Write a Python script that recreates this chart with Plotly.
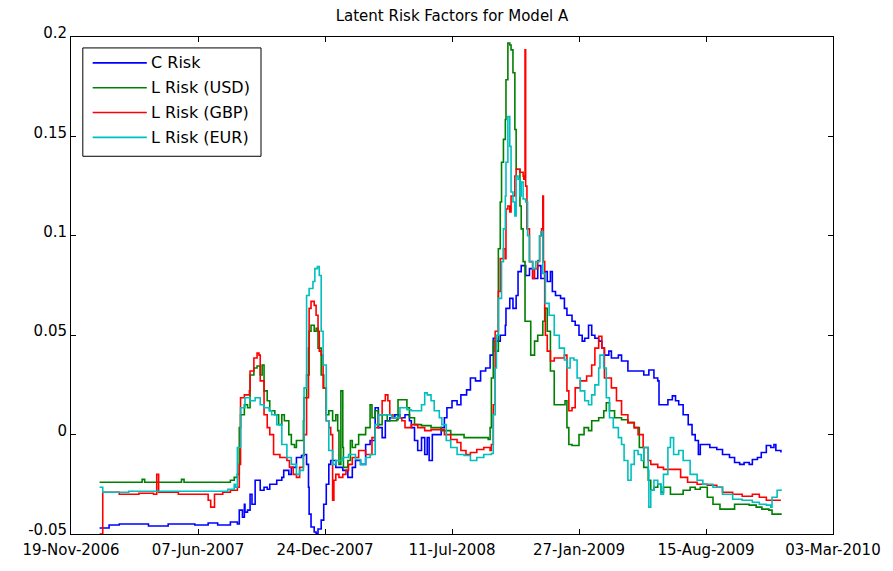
import pandas as pd
import plotly.graph_objects as go

start_date = "2006-11-19"

# (day offset from start_date, value)
c_risk = [(45,-0.047),(60,-0.0455),(76,-0.045),(102,-0.045),(122,-0.046),(153,-0.045),(195,-0.0455),(216,-0.0445),(231,-0.0455),(251,-0.044),(262,-0.045),(265,-0.038),(270,-0.0415),(273,-0.035),(274,-0.039),(278,-0.038),(282,-0.030),(285,-0.035),(288,-0.035),(290,-0.023),(296,-0.023),(298,-0.028),(304,-0.0265),(309,-0.0275),(313,-0.025),(324,-0.023),(332,-0.0215),(335,-0.018),(343,-0.020),(347,-0.0165),(355,-0.0115),(363,-0.0105),(367,-0.010),(371,-0.015),(374,-0.0265),(375,-0.040),(378,-0.0465),(383,-0.049),(386,-0.050),(389,-0.0475),(394,-0.043),(398,-0.035),(402,-0.025),(406,-0.015),(409,-0.013),(417,-0.0165),(428,-0.018),(436,-0.0215),(443,-0.0165),(448,-0.013),(456,-0.015),(464,-0.005),(471,-0.003),(479,0.0135),(484,0.0035),(490,-0.0015),(495,0.007),(502,0.0085),(510,0.010),(518,0.0085),(526,0.010),(533,0.007),(536,0.0035),(541,-0.003),(546,-0.008),(552,-0.0015),(557,-0.010),(561,-0.0015),(564,-0.013),(569,0.000),(577,0.000),(583,0.0035),(588,0.0085),(592,0.0135),(600,0.017),(608,0.015),(614,0.020),(623,0.0225),(629,0.0285),(637,0.027),(645,0.032),(653,0.0335),(660,0.040),(665,0.0485),(670,0.047),(676,0.050),(684,0.055),(685,0.0635),(691,0.0685),(696,0.0635),(701,0.070),(704,0.082),(709,0.085),(716,0.080),(722,0.0835),(727,0.0785),(735,0.085),(740,0.0785),(746,0.082),(750,0.077),(755,0.082),(758,0.072),(763,0.070),(771,0.0685),(777,0.0635),(781,0.060),(789,0.057),(794,0.055),(800,0.050),(805,0.047),(809,0.0485),(815,0.055),(820,0.050),(825,0.0485),(831,0.047),(836,0.0435),(840,0.040),(847,0.042),(851,0.0385),(862,0.040),(867,0.037),(871,0.037),(877,0.032),(887,0.032),(902,0.030),(910,0.0325),(918,0.0285),(924,0.027),(926,0.015),(932,0.015),(940,0.0175),(947,0.0195),(952,0.017),(957,0.015),(964,0.010),(972,0.005),(978,0.000),(983,-0.003),(988,-0.010),(991,-0.005),(998,-0.005),(1006,-0.0065),(1017,-0.0075),(1026,-0.010),(1037,-0.0115),(1045,-0.014),(1053,-0.015),(1060,-0.014),(1068,-0.015),(1073,-0.0125),(1081,-0.0115),(1087,-0.009),(1095,-0.0055),(1102,-0.0065),(1107,-0.005),(1110,-0.008),(1118,-0.009)]

l_risk_usd = [(45,-0.024),(107,-0.024),(112,-0.0225),(116,-0.024),(169,-0.024),(174,-0.0225),(178,-0.024),(223,-0.024),(251,-0.023),(257,-0.0215),(262,-0.020),(265,0.0035),(267,0.010),(273,0.015),(278,0.0135),(282,0.030),(288,0.0335),(293,0.0345),(298,0.030),(301,0.035),(304,0.022),(309,0.017),(313,0.012),(321,0.010),(327,0.005),(332,0.010),(336,0.007),(343,0.000),(347,-0.005),(352,-0.0065),(355,-0.003),(361,-0.003),(366,0.007),(367,0.0185),(371,0.030),(375,0.052),(378,0.055),(383,0.052),(386,0.0535),(389,0.0435),(394,0.030),(398,0.0235),(402,0.010),(406,0.012),(412,0.007),(417,0.010),(420,0.002),(422,-0.015),(425,0.022),(428,-0.0065),(429,-0.0165),(436,-0.013),(440,-0.003),(443,-0.0065),(448,-0.005),(453,0.000),(464,0.0035),(471,0.015),(474,0.0085),(479,0.012),(484,0.005),(490,0.010),(498,0.007),(505,0.007),(513,0.0075),(515,0.0175),(522,0.0175),(529,0.0135),(533,0.0085),(541,0.005),(552,0.0045),(567,0.0035),(583,0.002),(598,0.000),(619,-0.0015),(639,-0.0015),(657,-0.0025),(660,0.0035),(662,0.0285),(665,0.047),(668,0.042),(673,0.0935),(676,0.117),(678,0.137),(681,0.1485),(684,0.1585),(685,0.1785),(688,0.197),(691,0.196),(693,0.1935),(696,0.182),(699,0.1535),(701,0.1335),(707,0.115),(709,0.1035),(712,0.087),(715,0.057),(719,0.057),(724,0.040),(730,0.047),(735,0.050),(743,0.057),(746,0.0635),(750,0.052),(755,0.032),(761,0.015),(774,0.015),(778,0.017),(781,0.0035),(784,-0.005),(789,-0.0055),(800,0.000),(808,0.0035),(815,0.002),(820,0.007),(831,0.0085),(839,0.012),(843,0.016),(848,0.012),(856,0.0085),(867,0.0075),(877,0.006),(887,0.0035),(895,-0.0065),(902,-0.0165),(909,-0.023),(913,-0.028),(918,-0.0265),(924,-0.025),(929,-0.029),(933,-0.0265),(944,-0.030),(955,-0.030),(964,-0.028),(975,-0.0265),(983,-0.0275),(991,-0.0265),(1002,-0.0315),(1011,-0.035),(1022,-0.0375),(1037,-0.0375),(1045,-0.035),(1057,-0.035),(1068,-0.0355),(1079,-0.0365),(1088,-0.0375),(1099,-0.038),(1104,-0.040),(1118,-0.0395)]

l_risk_gbp = [(45,-0.050),(50,-0.029),(76,-0.030),(107,-0.0295),(130,-0.030),(135,-0.020),(138,-0.029),(169,-0.030),(200,-0.030),(216,-0.033),(220,-0.0365),(226,-0.030),(239,-0.029),(251,-0.028),(262,-0.0265),(265,-0.015),(267,0.0185),(273,0.020),(281,0.022),(282,0.032),(288,0.0385),(293,0.041),(296,0.040),(298,0.027),(304,0.010),(309,0.0035),(313,0.000),(319,-0.010),(329,-0.0115),(340,-0.013),(344,-0.0165),(350,-0.020),(355,-0.0215),(360,-0.0165),(366,-0.010),(367,0.000),(371,0.0185),(374,0.0435),(375,0.0635),(378,0.067),(383,0.065),(386,0.060),(389,0.052),(391,0.042),(394,0.040),(397,0.0235),(402,0.007),(406,0.0035),(409,0.000),(412,-0.033),(414,-0.023),(417,-0.020),(422,-0.0215),(428,-0.020),(433,-0.018),(437,-0.015),(443,-0.0115),(453,-0.008),(464,-0.010),(474,-0.0015),(479,0.0035),(484,0.010),(490,0.017),(495,0.020),(499,0.017),(502,0.010),(507,0.0085),(515,0.0085),(521,0.007),(526,0.0035),(536,0.005),(546,0.0035),(557,0.002),(567,0.0025),(577,0.0025),(588,0.000),(598,-0.0025),(608,-0.004),(614,-0.008),(622,-0.010),(629,-0.009),(639,-0.0075),(650,-0.0065),(660,-0.008),(662,-0.005),(665,0.015),(668,0.052),(673,0.072),(676,0.0885),(681,0.0935),(684,0.0885),(685,0.1135),(688,0.115),(691,0.112),(693,0.120),(699,0.130),(701,0.1335),(707,0.132),(712,0.130),(713,0.1285),(715,0.1935),(716,0.125),(718,0.1035),(722,0.087),(727,0.0785),(730,0.0835),(735,0.0875),(738,0.100),(741,0.1035),(743,0.120),(744,0.087),(746,0.0635),(747,0.050),(750,0.042),(755,0.037),(761,0.0385),(769,0.0385),(777,0.040),(781,0.022),(784,0.012),(789,0.0135),(794,0.0235),(802,0.027),(812,0.0295),(820,0.035),(825,0.0435),(831,0.0495),(836,0.0435),(840,0.0285),(847,0.0285),(851,0.0235),(859,0.017),(867,0.010),(877,0.006),(887,0.0035),(893,0.000),(901,-0.0065),(909,-0.013),(913,-0.015),(924,-0.0165),(933,-0.0175),(949,-0.0175),(960,-0.0215),(971,-0.024),(986,-0.025),(1002,-0.0255),(1017,-0.0265),(1026,-0.029),(1042,-0.030),(1057,-0.031),(1073,-0.030),(1084,-0.0315),(1095,-0.033),(1104,-0.033),(1118,-0.033)]

l_risk_eur = [(45,-0.0265),(50,-0.029),(91,-0.0285),(138,-0.0285),(200,-0.0285),(247,-0.0275),(257,-0.025),(259,-0.0265),(262,-0.0065),(267,0.0135),(274,0.0185),(282,0.017),(290,0.0185),(298,0.015),(304,0.0135),(312,0.012),(316,0.010),(324,0.005),(332,-0.005),(340,-0.0115),(347,-0.015),(355,-0.020),(360,-0.018),(366,-0.010),(367,0.0235),(371,0.070),(375,0.0735),(381,0.077),(384,0.0835),(388,0.0845),(391,0.080),(394,0.052),(397,0.035),(402,0.007),(406,-0.008),(412,-0.015),(417,-0.013),(428,-0.0115),(437,-0.010),(448,-0.0125),(456,-0.015),(464,-0.0115),(471,-0.010),(479,0.005),(484,0.010),(495,0.010),(505,0.0085),(518,0.0135),(529,0.0125),(536,0.012),(544,0.012),(552,0.015),(557,0.021),(561,0.020),(567,0.017),(572,0.012),(580,0.0085),(584,0.005),(591,-0.003),(598,-0.0065),(608,-0.010),(619,-0.0105),(629,-0.013),(639,-0.0115),(650,-0.010),(662,-0.0095),(665,0.010),(668,0.0335),(670,0.050),(673,0.0685),(678,0.087),(681,0.1035),(684,0.120),(685,0.137),(688,0.160),(691,0.145),(693,0.122),(696,0.117),(699,0.110),(701,0.130),(704,0.1285),(707,0.120),(709,0.127),(712,0.1185),(716,0.117),(719,0.100),(722,0.087),(727,0.0835),(732,0.087),(738,0.100),(740,0.102),(743,0.081),(747,0.066),(753,0.060),(761,0.050),(769,0.0435),(777,0.0375),(781,0.0335),(786,0.0385),(792,0.0375),(797,0.0285),(802,0.022),(809,0.017),(815,0.015),(820,0.020),(825,0.025),(831,0.0335),(833,0.040),(839,0.0335),(843,0.0185),(848,0.0085),(854,0.0035),(862,-0.0015),(867,-0.005),(871,-0.013),(877,-0.023),(882,-0.015),(887,-0.008),(893,-0.010),(898,-0.013),(902,-0.0065),(909,-0.018),(910,-0.0365),(913,-0.028),(918,-0.023),(924,-0.025),(929,-0.030),(933,-0.020),(940,-0.0065),(944,-0.0015),(947,-0.0015),(949,-0.010),(957,-0.008),(964,-0.013),(975,-0.020),(986,-0.023),(995,-0.025),(1011,-0.0265),(1026,-0.030),(1042,-0.0325),(1057,-0.033),(1073,-0.034),(1084,-0.035),(1095,-0.0355),(1102,-0.0365),(1104,-0.0315),(1112,-0.028),(1118,-0.0275)]

series_names = ["C Risk", "L Risk (USD)", "L Risk (GBP)", "L Risk (EUR)"]
series_data = [c_risk, l_risk_usd, l_risk_gbp, l_risk_eur]
series_colors = ["#0000FF", "#008000", "#FF0000", "#00BFBF"]

x_tick_dates = ["2006-11-19", "2007-06-07", "2007-12-24", "2008-07-11",
                "2009-01-27", "2009-08-15", "2010-03-03"]
x_tick_labels = ["19-Nov-2006", "07-Jun-2007", "24-Dec-2007", "11-Jul-2008",
                 "27-Jan-2009", "15-Aug-2009", "03-Mar-2010"]
y_tick_vals = [-0.05, 0, 0.05, 0.1, 0.15, 0.2]
y_tick_labels = ["-0.05", "0", "0.05", "0.1", "0.15", "0.2"]

FONT = "DejaVu Sans"
t0 = pd.Timestamp(start_date)

fig = go.Figure()
for name, data, color in zip(series_names, series_data, series_colors):
    days = [d for d, _ in data]
    vals = [v for _, v in data]
    dates = t0 + pd.to_timedelta(days, unit="D")
    fig.add_trace(go.Scatter(x=dates, y=vals, mode="lines", name=name,
                             line=dict(color=color, width=1.6, shape="hv"),
                             showlegend=False))

# Custom MATLAB-style legend
W, H = 893, 571
L, R, T, B = 71, 845, 37, 537
def px(X):
    return (X - L) / (R - L)
def py(Y):
    return (B - Y) / (B - T)

shapes = [dict(type="rect", xref="paper", yref="paper",
               x0=px(83), x1=px(264), y0=py(157), y1=py(48),
               line=dict(color="black", width=1), fillcolor="white", layer="above")]
annotations = []
rows = [63, 88, 113, 138]
for name, color, Y in zip(series_names, series_colors, rows):
    shapes.append(dict(type="line", xref="paper", yref="paper",
                       x0=px(93), x1=px(148), y0=py(Y), y1=py(Y),
                       line=dict(color=color, width=1.6), layer="above"))
    annotations.append(dict(xref="paper", yref="paper", x=px(150), y=py(Y),
                            text=name, showarrow=False, xanchor="left", yanchor="middle",
                            font=dict(family=FONT, size=16, color="black")))

fig.update_layout(
    width=W, height=H,
    margin=dict(l=L, r=W - R, t=T, b=H - B, pad=0),
    paper_bgcolor="white", plot_bgcolor="white",
    title=dict(text="Latent Risk Factors for Model A", x=0.5, xref="paper",
               y=1 - 16 / H, yref="container", xanchor="center", yanchor="middle",
               font=dict(family=FONT, size=15, color="black")),
    shapes=shapes, annotations=annotations,
    font=dict(family=FONT, size=15, color="black"),
)
fig.update_xaxes(type="date", range=[x_tick_dates[0], x_tick_dates[-1]],
                 tickmode="array", tickvals=x_tick_dates, ticktext=x_tick_labels,
                 ticks="inside", ticklen=5, tickcolor="black",
                 showline=True, linecolor="black", linewidth=1, mirror="ticks",
                 showgrid=False, zeroline=False, tickangle=0, ticklabelstandoff=2,
                 tickfont=dict(family=FONT, size=15, color="black"))
fig.update_yaxes(range=[-0.05, 0.2], tickmode="array", tickvals=y_tick_vals,
                 ticktext=y_tick_labels, ticklabelshift=-4,
                 ticks="inside", ticklen=5, tickcolor="black",
                 showline=True, linecolor="black", linewidth=1, mirror="ticks",
                 showgrid=False, zeroline=False,
                 tickfont=dict(family=FONT, size=15, color="black"))

fig.write_html("out.html")
